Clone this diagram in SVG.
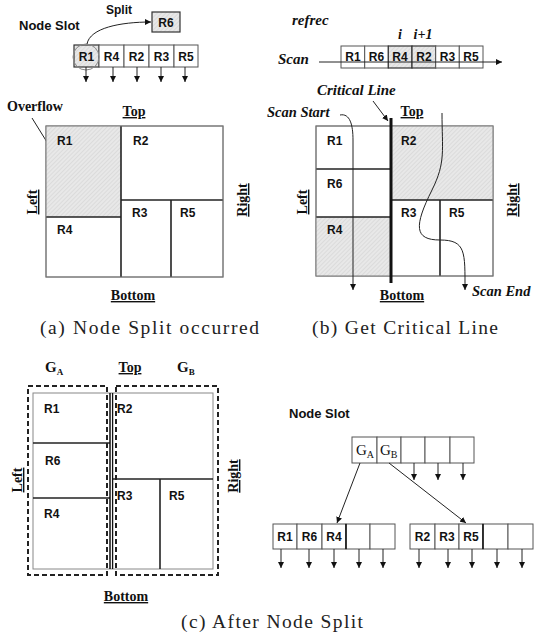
<svg xmlns="http://www.w3.org/2000/svg" width="536" height="637" viewBox="0 0 536 637">
<defs>
<pattern id="hatch" width="3" height="3" patternUnits="userSpaceOnUse" patternTransform="rotate(45)">
<rect width="3" height="3" fill="#e8e8e8"/>
<line x1="0" y1="0" x2="0" y2="3" stroke="#cfcfcf" stroke-width="1"/>
</pattern>
<marker id="ah" markerWidth="6" markerHeight="6" refX="6" refY="3" orient="auto" markerUnits="userSpaceOnUse">
<path d="M0,0 L6,3 L0,6 z" fill="#111"/>
</marker>
</defs>
<style>
.lbl{font-family:"Liberation Sans",Arial,sans-serif;font-weight:bold;font-size:12px;fill:#111}
.ns{font-family:"Liberation Sans",Arial,sans-serif;font-weight:bold;font-size:13px;fill:#111}
.side{font-family:"Liberation Serif","Times New Roman",serif;font-weight:bold;font-size:14px;fill:#111;text-decoration:underline}
.it{font-family:"Liberation Serif","Times New Roman",serif;font-weight:bold;font-style:italic;font-size:15px;fill:#111}
.cap{font-family:"Liberation Serif","Times New Roman",serif;font-size:19.5px;fill:#222}
.g{font-family:"Liberation Serif","Times New Roman",serif;font-weight:bold;font-size:15px;fill:#111}
.gr{font-family:"Liberation Serif","Times New Roman",serif;font-size:15px;fill:#111}
.cell{fill:#fff;stroke:#555;stroke-width:1}
.cellg{fill:url(#hatch);stroke:#333;stroke-width:1.2}
.outer{fill:#fff;stroke:#777;stroke-width:1}
.div{stroke:#222;stroke-width:1.6;fill:none}
.arr{stroke:#222;stroke-width:1;fill:none;marker-end:url(#ah)}
.dash{fill:none;stroke:#222;stroke-width:2;stroke-dasharray:5 3}
</style>

<!-- ===== Panel (a) ===== -->
<g id="panel-a">
<text class="lbl" x="106" y="14">Split</text>
<g id="a-r6"><rect x="152" y="12" width="28" height="20" class="cellg"/><text class="lbl" x="166" y="27" text-anchor="middle">R6</text></g>
<text class="ns" x="19" y="30">Node Slot</text>
<g id="a-slot">
<rect x="74" y="45" width="25" height="22" class="cellg"/>
<rect x="99" y="45" width="25" height="22" class="cell"/>
<rect x="124" y="45" width="25" height="22" class="cell"/>
<rect x="149" y="45" width="25" height="22" class="cell"/>
<rect x="174" y="45" width="24" height="22" class="cell"/>
<text class="lbl" x="86.5" y="61" text-anchor="middle">R1</text>
<text class="lbl" x="111.5" y="61" text-anchor="middle">R4</text>
<text class="lbl" x="136.5" y="61" text-anchor="middle">R2</text>
<text class="lbl" x="161.5" y="61" text-anchor="middle">R3</text>
<text class="lbl" x="186" y="61" text-anchor="middle">R5</text>
<circle cx="86" cy="57" r="13" fill="none" stroke="#888" stroke-width="1"/>
</g>
<g id="a-connectors">
<path class="arr" d="M87 44 C90 28 120 22 151 22"/>
<line class="arr" x1="86" y1="67" x2="86" y2="82"/>
<line class="arr" x1="113" y1="67" x2="113" y2="82"/>
<line class="arr" x1="137" y1="67" x2="137" y2="82"/>
<line class="arr" x1="161" y1="67" x2="161" y2="82"/>
<line class="arr" x1="185" y1="67" x2="185" y2="82"/>
<line class="arr" x1="32" y1="118" x2="55" y2="155"/>
</g>
<text class="g" x="7" y="111" style="font-size:14px">Overflow</text>
<text class="side" x="134" y="116" text-anchor="middle">Top</text>
<g id="a-space">
<rect x="46" y="126" width="177" height="151" class="outer"/>
<rect x="46" y="126" width="75" height="91" fill="url(#hatch)"/>
<line class="div" x1="121" y1="126" x2="121" y2="277"/>
<line class="div" x1="46" y1="217" x2="121" y2="217"/>
<line class="div" x1="121" y1="200" x2="223" y2="200"/>
<line class="div" x1="171" y1="200" x2="171" y2="277"/>
<rect x="46" y="126" width="177" height="151" fill="none" stroke="#777" stroke-width="1"/>
<text class="lbl" x="57" y="145">R1</text>
<text class="lbl" x="133" y="145">R2</text>
<text class="lbl" x="132" y="217">R3</text>
<text class="lbl" x="180" y="217">R5</text>
<text class="lbl" x="57" y="234">R4</text>
</g>
<text class="side" transform="translate(37 202) rotate(-90)" text-anchor="middle">Left</text>
<text class="side" transform="translate(247 200) rotate(-90)" text-anchor="middle">Right</text>
<text class="side" x="133" y="300" text-anchor="middle">Bottom</text>
<text class="cap" x="40" y="334" textLength="219" lengthAdjust="spacing">(a) Node Split occurred</text>
</g>

<!-- ===== Panel (b) ===== -->
<g id="panel-b">
<text class="it" x="292" y="25">refrec</text>
<text class="it" x="400" y="39" text-anchor="middle" style="font-size:14px">i</text>
<text class="it" x="423" y="39" text-anchor="middle" style="font-size:14px">i+1</text>
<text class="it" x="278" y="64">Scan</text>
<g id="b-scan">
<rect x="341" y="46" width="23.7" height="22" class="cell"/>
<rect x="364.7" y="46" width="23.6" height="22" class="cell"/>
<rect x="388.3" y="46" width="23.7" height="22" class="cellg"/>
<rect x="412" y="46" width="23.7" height="22" class="cellg"/>
<rect x="435.7" y="46" width="23.6" height="22" class="cell"/>
<rect x="459.3" y="46" width="23.7" height="22" class="cell"/>
<text class="lbl" x="353" y="61" text-anchor="middle">R1</text>
<text class="lbl" x="376.5" y="61" text-anchor="middle">R6</text>
<text class="lbl" x="400" y="61" text-anchor="middle">R4</text>
<text class="lbl" x="424" y="61" text-anchor="middle">R2</text>
<text class="lbl" x="447.5" y="61" text-anchor="middle">R3</text>
<text class="lbl" x="471" y="61" text-anchor="middle">R5</text>
</g>
<text class="it" x="317" y="95">Critical Line</text>
<text class="it" x="267" y="117" style="font-size:14.5px">Scan Start</text>
<text class="side" x="412" y="116" text-anchor="middle">Top</text>
<g id="b-space">
<rect x="316" y="126" width="177" height="150" class="outer"/>
<rect x="391" y="126" width="102" height="74" fill="url(#hatch)"/>
<rect x="316" y="217" width="75" height="59" fill="url(#hatch)"/>
<line class="div" x1="316" y1="169" x2="391" y2="169"/>
<line class="div" x1="316" y1="217" x2="391" y2="217"/>
<line class="div" x1="391" y1="200" x2="493" y2="200"/>
<line class="div" x1="440" y1="200" x2="440" y2="276"/>
<rect x="316" y="126" width="177" height="150" fill="none" stroke="#777" stroke-width="1"/>
<line x1="391" y1="118" x2="391" y2="283" stroke="#111" stroke-width="3"/>
<text class="lbl" x="327" y="145">R1</text>
<text class="lbl" x="327" y="188">R6</text>
<text class="lbl" x="327" y="234">R4</text>
<text class="lbl" x="401" y="145">R2</text>
<text class="lbl" x="401" y="217">R3</text>
<text class="lbl" x="449" y="217">R5</text>
</g>
<g id="b-connectors">
<line class="arr" x1="319" y1="62" x2="502" y2="62"/>
<line class="arr" x1="373" y1="101" x2="388" y2="121"/>
<path class="arr" d="M340 115 C350 113 353 125 353 140 L353 290" stroke-width="1.3"/>
<path class="arr" d="M442 113 C442 150 446 162 432 190 C414 226 414 240 440 240 C466 240 465 252 465 290" stroke-width="1.3"/>
</g>
<text class="side" transform="translate(307 202) rotate(-90)" text-anchor="middle">Left</text>
<text class="side" transform="translate(517 200) rotate(-90)" text-anchor="middle">Right</text>
<text class="side" x="402" y="300" text-anchor="middle">Bottom</text>
<text class="it" x="472" y="296" style="font-size:14.5px">Scan End</text>
<text class="cap" x="312" y="334" textLength="186" lengthAdjust="spacing">(b) Get Critical Line</text>
</g>

<!-- ===== Panel (c) ===== -->
<g id="panel-c">
<text class="g" x="45" y="372">G<tspan font-size="9" dy="3">A</tspan></text>
<text class="side" x="130" y="372" text-anchor="middle">Top</text>
<text class="g" x="177" y="372">G<tspan font-size="9" dy="3">B</tspan></text>
<g id="c-space">
<rect x="33" y="393" width="180" height="176" fill="#fff" stroke="#888" stroke-width="1"/>
<line class="div" x1="33" y1="443" x2="110" y2="443"/>
<line class="div" x1="33" y1="498" x2="110" y2="498"/>
<line class="div" x1="112" y1="479" x2="213" y2="479"/>
<line class="div" x1="160" y1="479" x2="160" y2="569"/>
<line x1="110" y1="393" x2="110" y2="569" stroke="#111" stroke-width="1.5"/>
<line x1="112.6" y1="393" x2="112.6" y2="569" stroke="#111" stroke-width="1.3"/>
<text class="lbl" x="44" y="413">R1</text>
<text class="lbl" x="45" y="465">R6</text>
<text class="lbl" x="44" y="518">R4</text>
<text class="lbl" x="117" y="413">R2</text>
<text class="lbl" x="117" y="500">R3</text>
<text class="lbl" x="169" y="500">R5</text>
</g>
<g id="c-groupA"><rect class="dash" x="28" y="386" width="79" height="189"/></g>
<g id="c-groupB"><rect class="dash" x="116" y="386" width="102" height="189"/></g>
<text class="side" transform="translate(22 480) rotate(-90)" text-anchor="middle">Left</text>
<text class="side" transform="translate(238 476) rotate(-90)" text-anchor="middle">Right</text>
<text class="side" x="126" y="601" text-anchor="middle">Bottom</text>

<text class="ns" x="289" y="418">Node Slot</text>
<g id="c-slot-top">
<rect x="352" y="437" width="25" height="26" class="cell" stroke="#777"/>
<rect x="377" y="437" width="24" height="26" class="cell"/>
<rect x="401" y="437" width="24" height="26" class="cell"/>
<rect x="425" y="437" width="25" height="26" class="cell"/>
<rect x="450" y="437" width="24" height="26" class="cell"/>
<text class="gr" x="356" y="455">G<tspan font-size="10" dy="3">A</tspan></text>
<text class="gr" x="380" y="455">G<tspan font-size="10" dy="3">B</tspan></text>
</g>
<g id="c-slot-left">
<rect x="273" y="524" width="24" height="25" class="cell"/>
<rect x="297" y="524" width="25" height="25" class="cell"/>
<rect x="322" y="524" width="24" height="25" class="cell"/>
<rect x="346" y="524" width="24" height="25" class="cell"/>
<rect x="370" y="524" width="25" height="25" class="cell"/>
<line x1="346" y1="524" x2="346" y2="549" stroke="#111" stroke-width="1.5"/>
<text class="lbl" x="285" y="541" text-anchor="middle">R1</text>
<text class="lbl" x="309.5" y="541" text-anchor="middle">R6</text>
<text class="lbl" x="334" y="541" text-anchor="middle">R4</text>
</g>
<g id="c-slot-right">
<rect x="410" y="524" width="25" height="25" class="cell"/>
<rect x="435" y="524" width="24" height="25" class="cell"/>
<rect x="459" y="524" width="24" height="25" class="cell"/>
<rect x="483" y="524" width="25" height="25" class="cell"/>
<rect x="508" y="524" width="25" height="25" class="cell"/>
<line x1="483" y1="524" x2="483" y2="549" stroke="#111" stroke-width="1.5"/>
<text class="lbl" x="422.5" y="541" text-anchor="middle">R2</text>
<text class="lbl" x="447" y="541" text-anchor="middle">R3</text>
<text class="lbl" x="471" y="541" text-anchor="middle">R5</text>
</g>
<g id="c-connectors">
<line class="arr" x1="414" y1="463" x2="414" y2="480"/>
<line class="arr" x1="438" y1="463" x2="438" y2="480"/>
<line class="arr" x1="463" y1="463" x2="463" y2="480"/>
<line class="arr" x1="360" y1="463" x2="337" y2="523" stroke="#444"/>
<line class="arr" x1="389" y1="463" x2="466" y2="523" stroke="#444"/>
<line class="arr" x1="281" y1="549" x2="281" y2="568"/>
<line class="arr" x1="309" y1="549" x2="309" y2="568"/>
<line class="arr" x1="334" y1="549" x2="334" y2="568"/>
<line class="arr" x1="359" y1="549" x2="359" y2="568"/>
<line class="arr" x1="383" y1="549" x2="383" y2="568"/>
<line class="arr" x1="419" y1="549" x2="419" y2="568"/>
<line class="arr" x1="448" y1="549" x2="448" y2="568"/>
<line class="arr" x1="472" y1="549" x2="472" y2="568"/>
<line class="arr" x1="497" y1="549" x2="497" y2="568"/>
<line class="arr" x1="522" y1="549" x2="522" y2="568"/>
</g>
<text class="cap" x="181" y="628" textLength="182" lengthAdjust="spacing">(c) After Node Split</text>
</g>
</svg>
